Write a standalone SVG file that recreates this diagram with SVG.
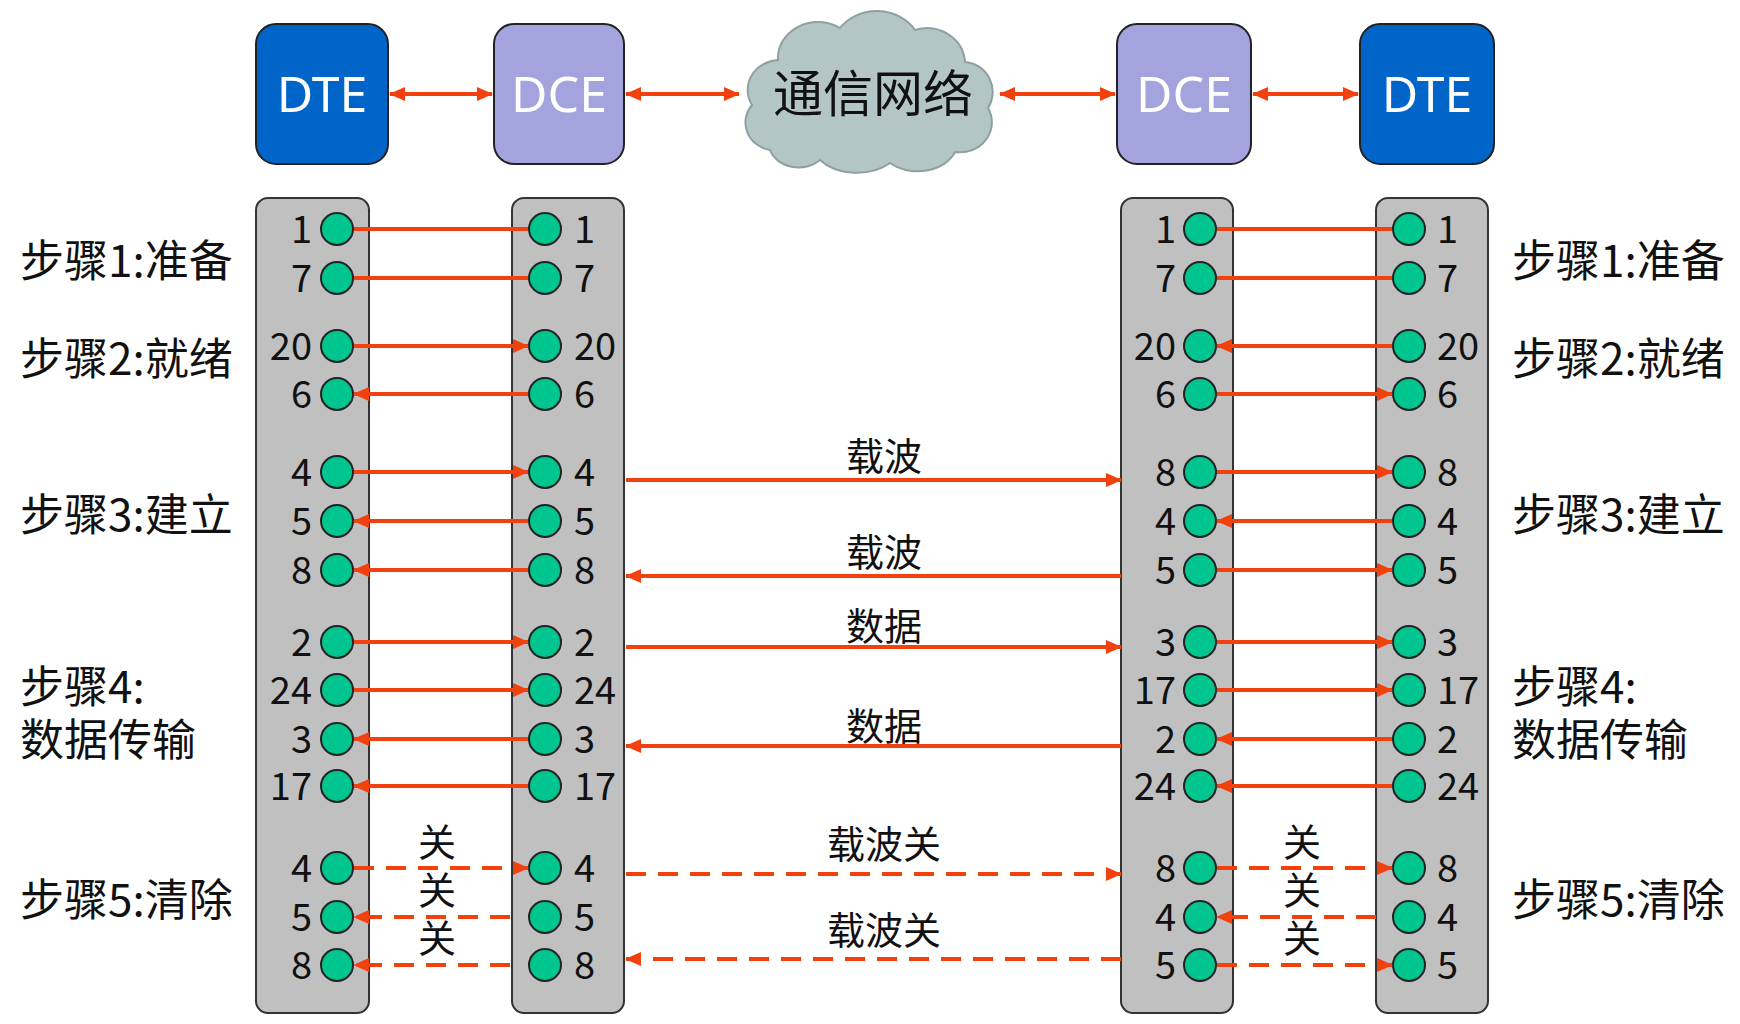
<svg xmlns="http://www.w3.org/2000/svg" width="1740" height="1024" viewBox="0 0 1740 1024">
<style>
.t{font-family:"Noto Sans CJK SC","Noto Sans",sans-serif;fill:#111}
.n{font-family:"Noto Sans CJK SC","Noto Sans",sans-serif;font-size:38px;fill:#111}
.s{font-size:44px}
.m{font-size:38px}
.box{stroke:#222;stroke-width:2}
.w{font-family:"Noto Sans","Open Sans",sans-serif;font-size:50px;fill:#fff;text-anchor:middle}
.p{fill:#c0c0c0;stroke:#333;stroke-width:2}
.c{fill:#00c58f;stroke:#222;stroke-width:2}
.l{stroke:#f2400f;stroke-width:4;fill:none}
.a{marker-end:url(#ah)}
.b{marker-start:url(#ah);marker-end:url(#ah)}
.d{stroke-dasharray:20 12}
</style>
<defs>
<marker id="ah" markerUnits="userSpaceOnUse" markerWidth="16" markerHeight="14" refX="15" refY="7" orient="auto-start-reverse"><path d="M0,0 L16,7 L0,14 z" fill="#f2400f"/></marker>
</defs>
<rect width="1740" height="1024" fill="#fff"/>
<g id="dte1"><rect class="box" x="256" y="24" width="132" height="140" rx="20" fill="#0064c8"/><text class="w" x="322" y="112">DTE</text></g>
<g id="dce1"><rect class="box" x="494" y="24" width="130" height="140" rx="20" fill="#a3a3de"/><text class="w" x="559" y="112">DCE</text></g>
<g id="net"><path d="M770 150 A30 28 0 0 1 752 105 A32 30 0 0 1 778 60 A40 36 0 0 1 840 28 A45 40 0 0 1 915 30 A38 36 0 0 1 965 62 A30 30 0 0 1 988 108 A32 30 0 0 1 955 152 A40 30 0 0 1 890 163 A45 30 0 0 1 820 160 A30 25 0 0 1 770 150 Z" fill="#b4c5c5" stroke="#8fa0a0" stroke-width="2"/><text class="t" x="873" y="112" font-size="50" text-anchor="middle">通信网络</text></g>
<g id="dce2"><rect class="box" x="1117" y="24" width="134" height="140" rx="20" fill="#a3a3de"/><text class="w" x="1184" y="112">DCE</text></g>
<g id="dte2"><rect class="box" x="1360" y="24" width="134" height="140" rx="20" fill="#0064c8"/><text class="w" x="1427" y="112">DTE</text></g>

<g id="steps" class="t s">
<text x="20" y="277">步骤1:准备</text>
<text x="20" y="375">步骤2:就绪</text>
<text x="20" y="531">步骤3:建立</text>
<text x="20" y="703">步骤4:</text>
<text x="20" y="756">数据传输</text>
<text x="20" y="916">步骤5:清除</text>
<text x="1512" y="277">步骤1:准备</text>
<text x="1512" y="375">步骤2:就绪</text>
<text x="1512" y="531">步骤3:建立</text>
<text x="1512" y="703">步骤4:</text>
<text x="1512" y="756">数据传输</text>
<text x="1512" y="916">步骤5:清除</text>
</g>

<g id="panel1"><rect class="p" x="256" y="198" width="113" height="815" rx="12"/>
<g class="c"><circle cx="337" cy="229" r="16"/><circle cx="337" cy="278" r="16"/><circle cx="337" cy="346" r="16"/><circle cx="337" cy="394" r="16"/><circle cx="337" cy="472" r="16"/><circle cx="337" cy="521" r="16"/><circle cx="337" cy="570" r="16"/><circle cx="337" cy="642" r="16"/><circle cx="337" cy="690" r="16"/><circle cx="337" cy="739" r="16"/><circle cx="337" cy="786" r="16"/><circle cx="337" cy="868" r="16"/><circle cx="337" cy="917" r="16"/><circle cx="337" cy="965" r="16"/></g>
<g class="n" text-anchor="end"><text x="312" y="243">1</text><text x="312" y="292">7</text><text x="312" y="360">20</text><text x="312" y="408">6</text><text x="312" y="486">4</text><text x="312" y="535">5</text><text x="312" y="584">8</text><text x="312" y="656">2</text><text x="312" y="704">24</text><text x="312" y="753">3</text><text x="312" y="800">17</text><text x="312" y="882">4</text><text x="312" y="931">5</text><text x="312" y="979">8</text></g></g>

<g id="panel2"><rect class="p" x="512" y="198" width="112" height="815" rx="12"/>
<g class="c"><circle cx="545" cy="229" r="16"/><circle cx="545" cy="278" r="16"/><circle cx="545" cy="346" r="16"/><circle cx="545" cy="394" r="16"/><circle cx="545" cy="472" r="16"/><circle cx="545" cy="521" r="16"/><circle cx="545" cy="570" r="16"/><circle cx="545" cy="642" r="16"/><circle cx="545" cy="690" r="16"/><circle cx="545" cy="739" r="16"/><circle cx="545" cy="786" r="16"/><circle cx="545" cy="868" r="16"/><circle cx="545" cy="917" r="16"/><circle cx="545" cy="965" r="16"/></g>
<g class="n"><text x="574" y="243">1</text><text x="574" y="292">7</text><text x="574" y="360">20</text><text x="574" y="408">6</text><text x="574" y="486">4</text><text x="574" y="535">5</text><text x="574" y="584">8</text><text x="574" y="656">2</text><text x="574" y="704">24</text><text x="574" y="753">3</text><text x="574" y="800">17</text><text x="574" y="882">4</text><text x="574" y="931">5</text><text x="574" y="979">8</text></g></g>

<g id="panel3"><rect class="p" x="1121" y="198" width="112" height="815" rx="12"/>
<g class="c"><circle cx="1200" cy="229" r="16"/><circle cx="1200" cy="278" r="16"/><circle cx="1200" cy="346" r="16"/><circle cx="1200" cy="394" r="16"/><circle cx="1200" cy="472" r="16"/><circle cx="1200" cy="521" r="16"/><circle cx="1200" cy="570" r="16"/><circle cx="1200" cy="642" r="16"/><circle cx="1200" cy="690" r="16"/><circle cx="1200" cy="739" r="16"/><circle cx="1200" cy="786" r="16"/><circle cx="1200" cy="868" r="16"/><circle cx="1200" cy="917" r="16"/><circle cx="1200" cy="965" r="16"/></g>
<g class="n" text-anchor="end"><text x="1176" y="243">1</text><text x="1176" y="292">7</text><text x="1176" y="360">20</text><text x="1176" y="408">6</text><text x="1176" y="486">8</text><text x="1176" y="535">4</text><text x="1176" y="584">5</text><text x="1176" y="656">3</text><text x="1176" y="704">17</text><text x="1176" y="753">2</text><text x="1176" y="800">24</text><text x="1176" y="882">8</text><text x="1176" y="931">4</text><text x="1176" y="979">5</text></g></g>

<g id="panel4"><rect class="p" x="1376" y="198" width="112" height="815" rx="12"/>
<g class="c"><circle cx="1409" cy="229" r="16"/><circle cx="1409" cy="278" r="16"/><circle cx="1409" cy="346" r="16"/><circle cx="1409" cy="394" r="16"/><circle cx="1409" cy="472" r="16"/><circle cx="1409" cy="521" r="16"/><circle cx="1409" cy="570" r="16"/><circle cx="1409" cy="642" r="16"/><circle cx="1409" cy="690" r="16"/><circle cx="1409" cy="739" r="16"/><circle cx="1409" cy="786" r="16"/><circle cx="1409" cy="868" r="16"/><circle cx="1409" cy="917" r="16"/><circle cx="1409" cy="965" r="16"/></g>
<g class="n"><text x="1437" y="243">1</text><text x="1437" y="292">7</text><text x="1437" y="360">20</text><text x="1437" y="408">6</text><text x="1437" y="486">8</text><text x="1437" y="535">4</text><text x="1437" y="584">5</text><text x="1437" y="656">3</text><text x="1437" y="704">17</text><text x="1437" y="753">2</text><text x="1437" y="800">24</text><text x="1437" y="882">8</text><text x="1437" y="931">4</text><text x="1437" y="979">5</text></g></g>

<g id="connectors" class="l">
<line class="b" x1="390" y1="94" x2="492" y2="94"/>
<line class="b" x1="626" y1="94" x2="739" y2="94"/>
<line class="b" x1="1000" y1="94" x2="1115" y2="94"/>
<line class="b" x1="1253" y1="94" x2="1358" y2="94"/>

<line x1="354" y1="229" x2="528" y2="229"/>
<line x1="354" y1="278" x2="528" y2="278"/>
<line class="a" x1="354" y1="346" x2="528" y2="346"/>
<line class="a" x1="528" y1="394" x2="354" y2="394"/>
<line class="a" x1="354" y1="472" x2="528" y2="472"/>
<line class="a" x1="528" y1="521" x2="354" y2="521"/>
<line class="a" x1="528" y1="570" x2="354" y2="570"/>
<line class="a" x1="354" y1="642" x2="528" y2="642"/>
<line class="a" x1="354" y1="690" x2="528" y2="690"/>
<line class="a" x1="528" y1="739" x2="354" y2="739"/>
<line class="a" x1="528" y1="786" x2="354" y2="786"/>
<line class="a d" x1="354" y1="868" x2="528" y2="868"/>
<line class="a d" x1="510" y1="917" x2="354" y2="917"/>
<line class="a d" x1="510" y1="965" x2="354" y2="965"/>

<line x1="1217" y1="229" x2="1392" y2="229"/>
<line x1="1217" y1="278" x2="1392" y2="278"/>
<line class="a" x1="1392" y1="346" x2="1217" y2="346"/>
<line class="a" x1="1217" y1="394" x2="1392" y2="394"/>
<line class="a" x1="1217" y1="472" x2="1392" y2="472"/>
<line class="a" x1="1392" y1="521" x2="1217" y2="521"/>
<line class="a" x1="1217" y1="570" x2="1392" y2="570"/>
<line class="a" x1="1217" y1="642" x2="1392" y2="642"/>
<line class="a" x1="1217" y1="690" x2="1392" y2="690"/>
<line class="a" x1="1392" y1="739" x2="1217" y2="739"/>
<line class="a" x1="1392" y1="786" x2="1217" y2="786"/>
<line class="a d" x1="1217" y1="868" x2="1392" y2="868"/>
<line class="a d" x1="1376" y1="917" x2="1217" y2="917"/>
<line class="a d" x1="1217" y1="965" x2="1392" y2="965"/>

<line class="a" x1="626" y1="480" x2="1121" y2="480"/>
<line class="a" x1="1121" y1="576" x2="626" y2="576"/>
<line class="a" x1="626" y1="647" x2="1121" y2="647"/>
<line class="a" x1="1121" y1="746" x2="626" y2="746"/>
<line class="a d" x1="626" y1="874" x2="1121" y2="874"/>
<line class="a d" x1="1121" y1="959" x2="626" y2="959"/>
</g>
<g id="labels" class="t m" text-anchor="middle">
<text x="884" y="470">载波</text>
<text x="884" y="566">载波</text>
<text x="884" y="640">数据</text>
<text x="884" y="740">数据</text>
<text x="884" y="858">载波关</text>
<text x="884" y="944">载波关</text>
<text x="437" y="856">关</text>
<text x="437" y="904">关</text>
<text x="437" y="952">关</text>
<text x="1302" y="856">关</text>
<text x="1302" y="904">关</text>
<text x="1302" y="952">关</text>
</g>
</svg>
